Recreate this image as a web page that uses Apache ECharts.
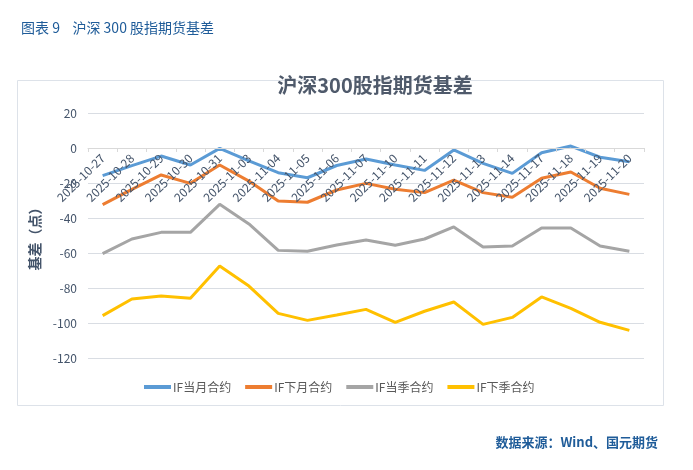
<!DOCTYPE html>
<html>
<head>
<meta charset="utf-8">
<script src="https://cdn.jsdelivr.net/npm/echarts@6/dist/echarts.min.js"></script>
<style>
  html, body { margin: 0; padding: 0; background: #fff; }
  #chart { width: 693px; height: 470px; }
</style>
</head>
<body>
<div id="chart"></div>
<script>
const dates = [
    "2025-10-27", "2025-10-28", "2025-10-29", "2025-10-30", "2025-10-31",
    "2025-11-03", "2025-11-04", "2025-11-05", "2025-11-06", "2025-11-07",
    "2025-11-10", "2025-11-11", "2025-11-12", "2025-11-13", "2025-11-14",
    "2025-11-17", "2025-11-18", "2025-11-19", "2025-11-20"
];
// IF当月合约
const ifCurMonth = [-15.8, -10.1, -4.6, -9.7, -0.2, -7.4, -14.1, -17.0, -10.0, -6.3,
    -9.7, -12.8, -1.1, -8.8, -14.5, -2.7, 1.1, -5.3, -7.8];
// IF下月合约
const ifNextMonth = [-32.4, -23.6, -15.4, -20.2, -9.7, -18.9, -30.3, -31.0, -24.0, -20.2,
    -23.6, -25.5, -18.3, -25.5, -28.2, -17.3, -13.7, -23.0, -26.5];
// IF当季合约
const ifCurQuarter = [-60.4, -52.0, -48.2, -48.2, -32.2, -43.4, -58.5, -59.0, -55.4, -52.6,
    -55.6, -52.0, -45.1, -56.6, -56.0, -45.7, -45.7, -56.0, -59.0];
// IF下季合约
const ifNextQuarter = [-95.8, -86.3, -84.6, -85.9, -67.4, -78.9, -94.5, -98.5, -95.4, -92.2,
    -99.6, -93.3, -88.0, -100.8, -96.8, -85.1, -91.6, -99.6, -104.2];

const seriesNames = ["IF当月合约", "IF下月合约", "IF当季合约", "IF下季合约"];
const seriesColors = ["#5B9BD5", "#ED7D31", "#A5A5A5", "#FFC000"];
const seriesData = [ifCurMonth, ifNextMonth, ifCurQuarter, ifNextQuarter];

const FONT = "Noto Sans CJK SC";

const chart = echarts.init(document.getElementById("chart"), null, { renderer: "canvas" });

const option = {
    animation: false,
    textStyle: { fontFamily: FONT },
    title: [
        {
            text: "图表 9    沪深 300 股指期货基差",
            left: 16,
            top: 16,
            textStyle: { color: "#1F5C99", fontSize: 14, fontWeight: "normal", fontFamily: FONT }
        },
        {
            text: "沪深300股指期货基差",
            left: 370,
            textAlign: "center",
            top: 70,
            textStyle: { color: "#4F5A6B", fontSize: 20, fontWeight: "bold", fontFamily: FONT }
        },
        {
            text: "数据来源：Wind、国元期货",
            right: 30,
            top: 431,
            textStyle: { color: "#1F5C99", fontSize: 13, fontWeight: "bold", fontFamily: FONT }
        }
    ],
    graphic: [
        {
            type: "rect",
            shape: { x: 17.5, y: 80.5, width: 646, height: 325 },
            style: { fill: "none", stroke: "#DDE2E9", lineWidth: 1 },
            silent: true
        }
    ],
    legend: {
        top: 376,
        left: 139,
        itemWidth: 27,
        itemHeight: 4,
        itemGap: 14,
        icon: "rect",
        textStyle: { color: "#595959", fontSize: 12, fontFamily: FONT, padding: [0, 0, 0, -3] },
        data: seriesNames
    },
    grid: { left: 88, right: 49, top: 113, bottom: 112 },
    xAxis: {
        type: "category",
        data: dates,
        boundaryGap: true,
        // the axis crosses at 0, which sits 6 of 7 steps above the grid bottom
        offset: -210,
        z: 20,
        axisLine: { onZero: false, lineStyle: { color: "#D9D9D9" } },
        axisTick: { show: true, length: 4, lineStyle: { color: "#D9D9D9" } },
        axisLabel: {
            rotate: 45,
            interval: 0,
            color: "#44546A",
            fontSize: 12,
            margin: 8
        }
    },
    yAxis: {
        type: "value",
        min: -120,
        max: 20,
        interval: 20,
        name: "基差（点）",
        nameLocation: "middle",
        nameGap: 32,
        nameRotate: 90,
        nameTextStyle: { color: "#44546A", fontSize: 14, fontWeight: "bold", fontFamily: FONT },
        axisLine: { show: false },
        axisTick: { show: false },
        axisLabel: { color: "#44546A", fontSize: 12, margin: 11 },
        splitLine: { lineStyle: { color: "#D9DDE3" } }
    },
    series: seriesNames.map((name, i) => ({
        name: name,
        type: "line",
        data: seriesData[i],
        symbol: "none",
        lineStyle: { width: 3, color: seriesColors[i] },
        itemStyle: { color: seriesColors[i] },
        z: 10 - i
    }))
};

chart.setOption(option);
</script>
</body>
</html>
